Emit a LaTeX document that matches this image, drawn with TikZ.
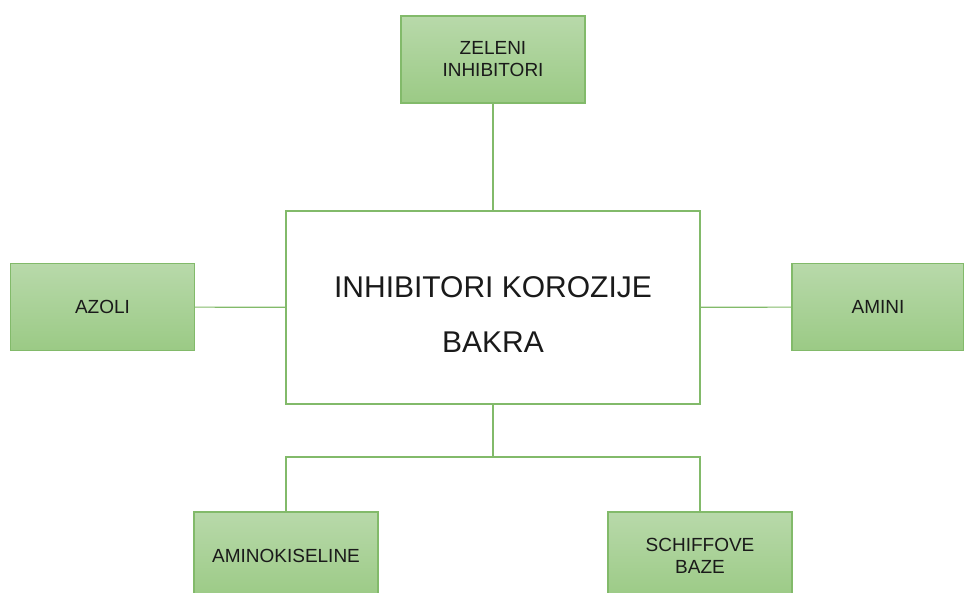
\documentclass[tikz,border=0pt]{standalone}
\usepackage{fontspec}
\setmainfont{Liberation Sans}
\usetikzlibrary{positioning}
\definecolor{cgreen}{HTML}{82BA6A}
\definecolor{ctop}{HTML}{B8D9AA}
\definecolor{cbottom}{HTML}{9BCA85}
\definecolor{ctext}{HTML}{1A1A1A}
\tikzset{
  every picture/.style={line width=1.2pt},
  leaf/.style={draw=cgreen, top color=ctop, bottom color=cbottom, minimum width=184pt, minimum height=87pt,
    align=center, inner sep=4pt, text=ctext, font=\fontsize{19}{22}\selectfont},
  hub/.style={draw=cgreen, fill=white, minimum width=414pt, minimum height=193pt},
  hubtext/.style={align=center, text=ctext, font=\fontsize{30}{55}\selectfont},
  link/.style={draw=cgreen, line width=1.2pt},
}

\begin{document}
\begin{tikzpicture}[x=1pt, y=-1pt]
  \useasboundingbox (0,0) rectangle (964,592);
  \clip (0,0) rectangle (964,592);
  % centre
  \node[hub] (hub) at (493,307.5) {};
  \node[hubtext] (hubtext) at ([yshift=-7pt]hub.center) {INHIBITORI KOROZIJE\\BAKRA};
  % groups
  \node[leaf] (zeleni) at (493,59.5) {ZELENI\\INHIBITORI};
  \node[leaf] (azoli) at (102.5,307) {AZOLI};
  \node[leaf, minimum width=172pt] (amini) at (878,307) {AMINI};
  \node[leaf] (amino) at (286,555.5) {AMINOKISELINE};
  \node[leaf] (schiff) at (700,555.5) {SCHIFFOVE\\BAZE};
  % connectors
  \coordinate (split) at (493,457);
  \draw[link] (zeleni) -- (hub);
  \draw[link] (azoli) -- (hub);
  \draw[link] (hub) -- (amini);
  \draw[link] (hub) -- (split);
  \draw[link] (split) -| (amino);
  \draw[link] (split) -| (schiff);
\end{tikzpicture}
\end{document}
